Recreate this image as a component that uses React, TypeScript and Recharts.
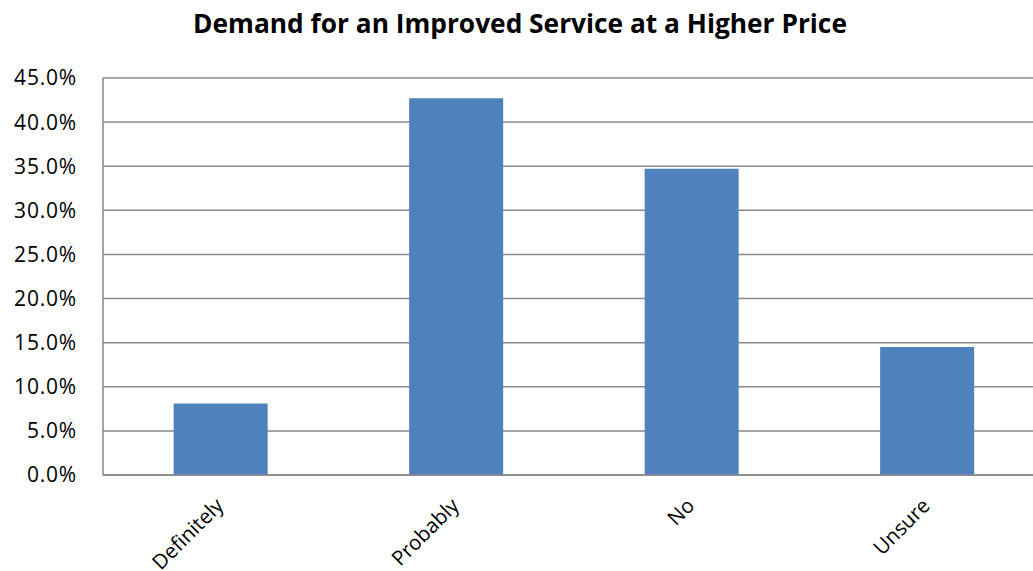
import React from 'react';
import { BarChart, Bar, XAxis, YAxis, CartesianGrid } from 'recharts';

// Survey responses: share of respondents per answer (%)
const categories = ['Definitely', 'Probably', 'No', 'Unsure'];
const shares = [8.1, 42.7, 34.7, 14.5];
const yTicks = [0, 5, 10, 15, 20, 25, 30, 35, 40, 45];
const title = 'Demand for an Improved Service at a Higher Price';

const data = categories.map((category, i) => ({ category, share: shares[i] }));

const FONT = '"Open Sans", "DejaVu Sans", sans-serif';
const GRID = '#878787';

const CategoryTick = (props: any) => {
  const { x, y, payload } = props;
  return (
    <g transform={`translate(${x + 4},${y})`}>
      <text
        x={0}
        y={0}
        textAnchor="end"
        transform="rotate(-45)"
        fontFamily={FONT}
        fontSize={20.5}
        fill="#000"
      >
        {payload.value}
      </text>
    </g>
  );
};

export default function App() {
  return (
    <div
      style={{
        position: 'fixed',
        left: 0,
        top: 0,
        width: 1033,
        height: 571,
        overflow: 'hidden',
        background: '#fff',
      }}
    >
      <svg
        width={1033}
        height={50}
        style={{ position: 'absolute', left: 0, top: 0 }}
      >
        <text
          x={520}
          y={33}
          textAnchor="middle"
          fontFamily={FONT}
          fontWeight={700}
          fontSize={26.3}
          fill="#000"
        >
          {title}
        </text>
      </svg>
      <BarChart
        width={1060}
        height={571}
        data={data}
        margin={{ top: 78, right: 15, left: 0, bottom: 0 }}
        barCategoryGap="30%"
      >
        <CartesianGrid
          vertical={false}
          stroke={GRID}
          strokeWidth={1.5}
          strokeDasharray=""
        />
        <XAxis
          dataKey="category"
          height={96}
          axisLine={{ stroke: GRID, strokeWidth: 1.5 }}
          tickLine={false}
          tickSize={0}
          tickMargin={32}
          interval={0}
          tick={<CategoryTick />}
        />
        <YAxis
          width={103}
          domain={[0, 45]}
          ticks={yTicks}
          interval={0}
          allowDataOverflow
          axisLine={{ stroke: GRID, strokeWidth: 1.5 }}
          tickLine={false}
          tickSize={0}
          tickMargin={26}
          tickFormatter={(v: number) => `${v.toFixed(1)}%`}
          tick={{ fontFamily: FONT, fontSize: 21, fill: '#000', letterSpacing: 0.8 }}
        />
        <Bar dataKey="share" fill="#4F81BD" isAnimationActive={false} />
      </BarChart>
    </div>
  );
}
